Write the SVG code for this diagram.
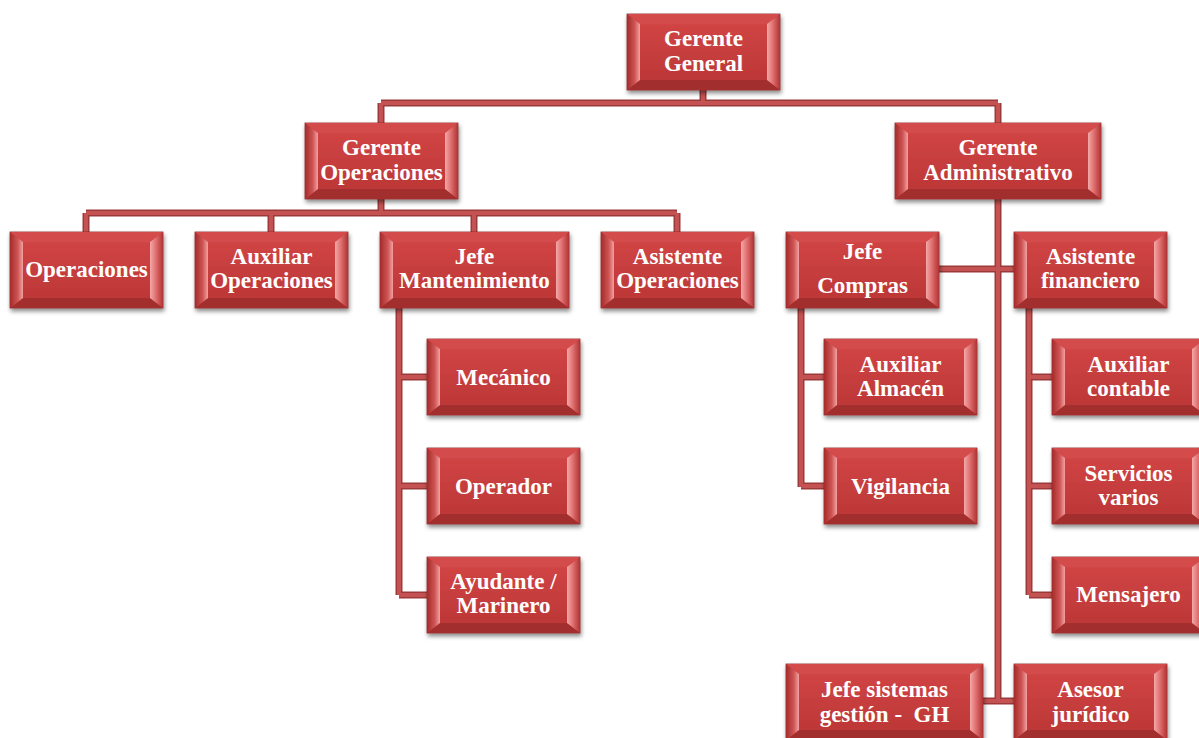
<svg xmlns="http://www.w3.org/2000/svg" xmlns:xlink="http://www.w3.org/1999/xlink" width="1199" height="738" viewBox="0 0 1199 738">
<style>
.t{font-family:"Liberation Serif","Times New Roman",serif;font-weight:bold;font-size:23px;fill:#ffffff;text-anchor:middle}
.top{fill:#d44b4b}
.bot{fill:#a32d2d}
.lft{fill:url(#gl)}
.rgt{fill:url(#gr)}
.face{fill:url(#gf)}
.out{fill:#c23a3a;stroke:#8a2828;stroke-width:0.8}
.c1{fill:none;stroke:#9c3a3a;stroke-width:7;stroke-linejoin:miter;stroke-linecap:butt}
.c2{fill:none;stroke:#c45252;stroke-width:4;stroke-linejoin:miter;stroke-linecap:butt}
</style>
<defs>
<linearGradient id="gl" x1="0" y1="0" x2="1" y2="0">
<stop offset="0" stop-color="#a52b2b"/>
<stop offset="0.6" stop-color="#cf5555"/>
<stop offset="1" stop-color="#f2a2a2"/>
</linearGradient>
<linearGradient id="gr" x1="0" y1="0" x2="1" y2="0">
<stop offset="0" stop-color="#f4a8a8"/>
<stop offset="0.45" stop-color="#e07070"/>
<stop offset="1" stop-color="#b03232"/>
</linearGradient>
<linearGradient id="gf" x1="0" y1="0" x2="0" y2="1">
<stop offset="0" stop-color="#d04444"/>
<stop offset="1" stop-color="#bd3737"/>
</linearGradient>
<filter id="sh" x="-10%" y="-10%" width="120%" height="135%">
<feDropShadow dx="1" dy="3" stdDeviation="2" flood-color="#000000" flood-opacity="0.45"/>
</filter>
<g id="b153">
<rect class="out" x="0" y="0" width="153" height="76"/>
<polygon class="top" points="0,0 153,0 140,10 13,10"/>
<polygon class="bot" points="0,76 153,76 140,66 13,66"/>
<polygon class="lft" points="0,0 13,10 13,66 0,76"/>
<polygon class="rgt" points="153,0 140,10 140,66 153,76"/>
<rect class="face" x="13" y="10" width="127" height="56"/>
</g>
<g id="b189">
<rect class="out" x="0" y="0" width="189" height="76"/>
<polygon class="top" points="0,0 189,0 176,10 13,10"/>
<polygon class="bot" points="0,76 189,76 176,66 13,66"/>
<polygon class="lft" points="0,0 13,10 13,66 0,76"/>
<polygon class="rgt" points="189,0 176,10 176,66 189,76"/>
<rect class="face" x="13" y="10" width="163" height="56"/>
</g>
<g id="b206">
<rect class="out" x="0" y="0" width="206" height="76"/>
<polygon class="top" points="0,0 206,0 193,10 13,10"/>
<polygon class="bot" points="0,76 206,76 193,66 13,66"/>
<polygon class="lft" points="0,0 13,10 13,66 0,76"/>
<polygon class="rgt" points="206,0 193,10 193,66 206,76"/>
<rect class="face" x="13" y="10" width="180" height="56"/>
</g>
<g id="b197">
<rect class="out" x="0" y="0" width="197" height="76"/>
<polygon class="top" points="0,0 197,0 184,10 13,10"/>
<polygon class="bot" points="0,76 197,76 184,66 13,66"/>
<polygon class="lft" points="0,0 13,10 13,66 0,76"/>
<polygon class="rgt" points="197,0 184,10 184,66 197,76"/>
<rect class="face" x="13" y="10" width="171" height="56"/>
</g>
</defs>
<rect width="1199" height="738" fill="#ffffff"/>
<g id="connectors">
<path class="c1" d="M703,90 V103 M381,103 H998 M381,103 V123 M998,103 V123 M381,199 V213 M86,213 H677 M86,213 V232 M271,213 V232 M474,213 V232 M677,213 V232 M399,308 V595 M399,377 H427 M399,486 H427 M399,595 H427 M998,199 V701 M939,269 H1014 M983,701 H1014 M801,308 V487 M801,377 H824 M801,486 H824 M1029,308 V595 M1029,377 H1052 M1029,486 H1052 M1029,595 H1052"/>
<path class="c2" d="M703,90 V103 M381,103 H998 M381,103 V123 M998,103 V123 M381,199 V213 M86,213 H677 M86,213 V232 M271,213 V232 M474,213 V232 M677,213 V232 M399,308 V595 M399,377 H427 M399,486 H427 M399,595 H427 M998,199 V701 M939,269 H1014 M983,701 H1014 M801,308 V487 M801,377 H824 M801,486 H824 M1029,308 V595 M1029,377 H1052 M1029,486 H1052 M1029,595 H1052"/>
</g>
<g id="gerente-general" transform="translate(627,14)"><use href="#b153" filter="url(#sh)"/><text class="t" x="76.5" y="32">Gerente</text><text class="t" x="76.5" y="57">General</text></g>
<g id="gerente-operaciones" transform="translate(305,123)"><use href="#b153" filter="url(#sh)"/><text class="t" x="76.5" y="32">Gerente</text><text class="t" x="76.5" y="57">Operaciones</text></g>
<g id="gerente-administrativo" transform="translate(895,123)"><use href="#b206" filter="url(#sh)"/><text class="t" x="103" y="32">Gerente</text><text class="t" x="103" y="57">Administrativo</text></g>
<g id="operaciones" transform="translate(10,232)"><use href="#b153" filter="url(#sh)"/><text class="t" x="76.5" y="45">Operaciones</text></g>
<g id="auxiliar-operaciones" transform="translate(195,232)"><use href="#b153" filter="url(#sh)"/><text class="t" x="76.5" y="32">Auxiliar</text><text class="t" x="76.5" y="56">Operaciones</text></g>
<g id="jefe-mantenimiento" transform="translate(380,232)"><use href="#b189" filter="url(#sh)"/><text class="t" x="94.5" y="32">Jefe</text><text class="t" x="94.5" y="56">Mantenimiento</text></g>
<g id="asistente-operaciones" transform="translate(601,232)"><use href="#b153" filter="url(#sh)"/><text class="t" x="76.5" y="32">Asistente</text><text class="t" x="76.5" y="56">Operaciones</text></g>
<g id="jefe-compras" transform="translate(786,232)"><use href="#b153" filter="url(#sh)"/><text class="t" x="76.5" y="27">Jefe</text><text class="t" x="76.5" y="61">Compras</text></g>
<g id="asistente-financiero" transform="translate(1014,232)"><use href="#b153" filter="url(#sh)"/><text class="t" x="76.5" y="32">Asistente</text><text class="t" x="76.5" y="56">financiero</text></g>
<g id="mecanico" transform="translate(427,339)"><use href="#b153" filter="url(#sh)"/><text class="t" x="76.5" y="46">Mecánico</text></g>
<g id="operador" transform="translate(427,448)"><use href="#b153" filter="url(#sh)"/><text class="t" x="76.5" y="46">Operador</text></g>
<g id="ayudante-marinero" transform="translate(427,557)"><use href="#b153" filter="url(#sh)"/><text class="t" x="76.5" y="32">Ayudante /</text><text class="t" x="76.5" y="56">Marinero</text></g>
<g id="auxiliar-almacen" transform="translate(824,339)"><use href="#b153" filter="url(#sh)"/><text class="t" x="76.5" y="33">Auxiliar</text><text class="t" x="76.5" y="57">Almacén</text></g>
<g id="vigilancia" transform="translate(824,448)"><use href="#b153" filter="url(#sh)"/><text class="t" x="76.5" y="46">Vigilancia</text></g>
<g id="auxiliar-contable" transform="translate(1052,339)"><use href="#b153" filter="url(#sh)"/><text class="t" x="76.5" y="33">Auxiliar</text><text class="t" x="76.5" y="57">contable</text></g>
<g id="servicios-varios" transform="translate(1052,448)"><use href="#b153" filter="url(#sh)"/><text class="t" x="76.5" y="33">Servicios</text><text class="t" x="76.5" y="57">varios</text></g>
<g id="mensajero" transform="translate(1052,557)"><use href="#b153" filter="url(#sh)"/><text class="t" x="76.5" y="45">Mensajero</text></g>
<g id="jefe-sistemas" transform="translate(786,664)"><use href="#b197" filter="url(#sh)"/><text class="t" x="98.5" y="33">Jefe sistemas</text><text class="t" x="98.5" y="58" style="white-space:pre">gestión -  GH</text></g>
<g id="asesor-juridico" transform="translate(1014,664)"><use href="#b153" filter="url(#sh)"/><text class="t" x="76.5" y="33">Asesor</text><text class="t" x="76.5" y="58">jurídico</text></g>
</svg>
